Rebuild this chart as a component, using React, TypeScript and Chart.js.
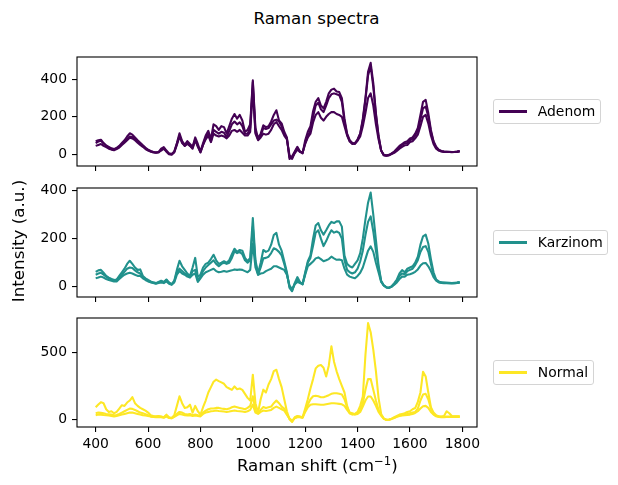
import React, { useEffect, useRef } from "react";
import { Chart, registerables } from "chart.js";

Chart.register(...registerables);

// ---------------- data ----------------
const X = [
  400, 410, 420, 430, 440, 450, 460, 470, 480, 490,
  500, 510, 520, 530, 540, 550, 560, 570, 580, 590,
  600, 610, 620, 630, 640, 650, 660, 670, 680, 690,
  700, 710, 720, 730, 740, 750, 760, 770, 780, 790,
  800, 810, 820, 830, 840, 850, 860, 870, 880, 890,
  900, 910, 920, 930, 940, 950, 960, 970, 980, 990,
  1000, 1010, 1020, 1030, 1040, 1050, 1060, 1070, 1080, 1090,
  1100, 1110, 1120, 1130, 1140, 1150, 1160, 1170, 1180, 1190,
  1200, 1210, 1220, 1230, 1240, 1250, 1260, 1270, 1280, 1290,
  1300, 1310, 1320, 1330, 1340, 1350, 1360, 1370, 1380, 1390,
  1400, 1410, 1420, 1430, 1440, 1450, 1460, 1470, 1480, 1490,
  1500, 1510, 1520, 1530, 1540, 1550, 1560, 1570, 1580, 1590,
  1600, 1610, 1620, 1630, 1640, 1650, 1660, 1670, 1680, 1690,
  1700, 1710, 1720, 1730, 1740, 1750, 1760, 1770, 1780, 1790,
];

const ADENOM_1 = [
  70, 75, 78, 60, 45, 35, 28, 25, 35, 45,
  60, 75, 95, 112, 105, 90, 75, 62, 48, 35,
  25, 18, 12, 10, 12, 30, 38, 20, 5, 2,
  15, 60, 112, 70, 50, 70, 55, 40, 90, 55,
  15, 60, 100, 125, 80, 160, 150, 130, 150, 145,
  110, 150, 190, 215, 190, 210, 180, 120, 130, 160,
  395, 140, 85, 110, 155, 145, 150, 175, 210, 235,
  180, 165, 120, 90, -25, -10, 15, 40, 15, 5,
  75, 120, 150, 230, 280, 300, 260, 245, 280, 325,
  345, 350, 335, 332, 300, 190, 110, 75, 60, 55,
  75, 110, 190, 300, 440, 488, 380, 220, 100, 20,
  -5, -8, -5, 5, 15, 30, 45, 55, 65, 70,
  85, 90, 110, 140, 210, 280, 290, 220, 130, 70,
  40, 25, 18, 15, 14, 13, 12, 13, 15, 18,
];
const ADENOM_2 = [
  60, 68, 72, 58, 48, 40, 32, 28, 32, 40,
  55, 68, 82, 95, 92, 82, 70, 58, 45, 33,
  22, 15, 10, 8, 10, 25, 35, 15, 0, -2,
  12, 55, 100, 65, 45, 60, 45, 35, 80, 45,
  10, 50, 90, 110, 70, 130, 120, 110, 120, 115,
  90, 125, 160, 175, 160, 170, 150, 110, 110, 140,
  385, 120, 80, 100, 140, 135, 140, 160, 180, 185,
  175, 150, 110, 85, -15, -25, 10, 35, 15, 8,
  60, 95, 130, 200, 260, 275, 240, 225, 260, 300,
  320, 325, 320, 315, 280, 175, 105, 70, 58, 60,
  80, 110, 180, 290, 420, 470, 360, 210, 95, 20,
  -5, -8, -5, 3, 12, 25, 38, 50, 58, 60,
  75, 82, 100, 125, 185, 245, 255, 200, 120, 65,
  35, 22, 16, 14, 13, 12, 12, 12, 14, 16,
];
const ADENOM_3 = [
  45, 50, 55, 45, 38, 30, 25, 22, 28, 36,
  50, 62, 75, 88, 85, 75, 62, 50, 40, 28,
  20, 15, 12, 10, 12, 20, 30, 15, 2, 0,
  10, 50, 95, 60, 45, 55, 45, 30, 75, 40,
  12, 50, 80, 100, 65, 110, 100, 95, 100, 95,
  85, 100, 125, 130, 120, 130, 115, 100, 100, 120,
  350, 110, 75, 90, 110, 105, 110, 130, 160, 172,
  150, 130, 100, 80, -5, -20, 5, 25, 12, 8,
  55, 90, 110, 170, 210, 225, 195, 180, 200, 215,
  225, 225, 215, 210, 200, 150, 100, 68, 55, 58,
  72, 95, 150, 220, 300, 325, 260, 160, 80, 20,
  -3, -5, -3, 2, 8, 18, 30, 40, 48, 50,
  65, 70, 85, 105, 150, 200, 210, 165, 100, 55,
  30, 20, 15, 13, 12, 12, 11, 12, 13, 15,
];

const KARZINOM_1 = [
  62, 68, 70, 58, 45, 38, 32, 28, 30, 45,
  60, 75, 95, 108, 95, 80, 70, 72, 45, 35,
  28, 22, 18, 15, 20, 25, 20, 30, 18, 10,
  25, 70, 108, 85, 70, 55, 45, 80, 120, 40,
  50, 80, 95, 100, 115, 133, 110, 95, 100, 106,
  100, 110, 135, 158, 145, 153, 150, 120, 106, 120,
  286, 110, 55, 100, 153, 145, 150, 175, 215, 224,
  175, 150, 106, 60, -5, -19, 15, 40, 20, 10,
  60, 106, 130, 200, 255, 265, 235, 217, 235, 255,
  270, 265, 272, 272, 250, 130, 95, 85, 80, 95,
  110, 140, 200, 280, 350, 392, 300, 195, 90, 25,
  5, -3, -5, 2, 15, 30, 55, 69, 60, 75,
  80, 85, 100, 125, 175, 210, 217, 180, 115, 60,
  30, 22, 18, 17, 16, 16, 15, 16, 17, 20,
];
const KARZINOM_2 = [
  50, 55, 58, 50, 42, 35, 30, 28, 28, 40,
  50, 62, 75, 80, 78, 68, 60, 55, 40, 32,
  25, 20, 16, 14, 18, 22, 18, 28, 15, 10,
  22, 60, 75, 65, 55, 50, 40, 65, 70, 25,
  40, 65, 80, 90, 100, 110, 95, 85, 95, 100,
  95, 100, 120, 147, 140, 145, 135, 110, 100, 110,
  250, 100, 50, 80, 118, 120, 125, 140, 160, 155,
  145, 130, 95, 55, 0, -15, 12, 30, 18, 12,
  55, 100, 120, 170, 225, 235, 200, 169, 190, 215,
  235, 225, 230, 224, 200, 110, 70, 60, 55, 60,
  75, 105, 150, 215, 270, 293, 230, 150, 80, 22,
  5, -3, -5, 0, 10, 25, 45, 55, 52, 65,
  70, 75, 90, 110, 145, 165, 169, 145, 95, 50,
  28, 20, 17, 16, 16, 15, 15, 15, 16, 18,
];
const KARZINOM_3 = [
  35, 38, 42, 38, 32, 28, 25, 22, 22, 32,
  42, 50, 55, 58, 55, 50, 45, 45, 35, 28,
  22, 18, 15, 12, 15, 18, 15, 22, 12, 8,
  18, 50, 65, 55, 50, 42, 38, 50, 55, 20,
  35, 50, 60, 65, 70, 75, 65, 60, 62, 65,
  62, 65, 68, 72, 70, 72, 70, 65, 60, 70,
  180, 80, 50, 55, 57, 65, 70, 75, 85, 85,
  80, 75, 70, 50, 5, -10, 10, 20, 15, 10,
  50, 85, 95, 105, 118, 122, 115, 106, 110, 115,
  125, 118, 112, 113, 110, 75, 50, 42, 38, 35,
  45, 58, 80, 115, 150, 168, 145, 100, 60, 20,
  5, -2, -3, 0, 8, 18, 32, 42, 42, 50,
  52, 56, 62, 72, 88, 98, 99, 85, 65, 40,
  25, 18, 16, 15, 15, 15, 14, 15, 16, 17,
];

const NORMAL_1 = [
  90, 110, 128, 120, 75, 55, 60, 45, 55, 80,
  105, 100, 125, 140, 166, 120, 100, 85, 75, 65,
  50, 30, 25, 22, 25, 20, 15, 35, 15, 10,
  30, 100, 172, 120, 84, 90, 109, 50, 100, 60,
  35, 90, 140, 200, 240, 280, 296, 285, 275, 265,
  240, 230, 220, 245, 225, 230, 220, 190, 160, 140,
  333, 120, 50, 150, 221, 200, 260, 300, 360, 370,
  300, 240, 150, 60, 0, -20, 15, 25, 20, 15,
  80, 150, 230, 300, 380, 400, 405, 385, 320, 400,
  545, 430, 358, 300, 250, 200, 100, 45, 35, 40,
  55, 100, 170, 480, 718, 650, 520, 360, 160, 40,
  5, -5, -3, 5, 15, 25, 35, 40, 45, 55,
  60, 75, 84, 130, 200, 355, 320, 200, 90, 50,
  30, 22, 20, 25, 60, 45, 25, 22, 22, 22,
];
const NORMAL_2 = [
  45, 50, 48, 45, 40, 38, 35, 30, 32, 40,
  50, 60, 70, 80, 78, 70, 60, 50, 45, 38,
  30, 22, 20, 18, 20, 18, 15, 25, 12, 8,
  20, 40, 55, 50, 40, 35, 40, 30, 35, 30,
  25, 50, 65, 75, 80, 80, 85, 85, 80, 78,
  75, 80, 90, 95, 90, 85, 80, 75, 85, 100,
  172, 70, 45, 70, 92, 85, 90, 95, 120, 140,
  120, 95, 80, 40, 5, -15, 10, 20, 18, 12,
  65, 110, 150, 172, 176, 172, 165, 165, 172, 180,
  190, 194, 194, 190, 185, 150, 90, 50, 45, 38,
  45, 70, 120, 220, 300, 300, 220, 140, 70, 30,
  5, -3, -3, 3, 12, 20, 28, 32, 35, 40,
  45, 50, 55, 80, 140, 185, 190, 150, 80, 40,
  25, 20, 18, 18, 20, 20, 20, 20, 20, 20,
];
const NORMAL_3 = [
  30, 35, 35, 32, 30, 28, 25, 22, 25, 30,
  35, 40, 45, 50, 50, 45, 40, 35, 30, 28,
  25, 20, 18, 16, 18, 15, 12, 20, 10, 8,
  18, 30, 40, 35, 30, 28, 30, 25, 28, 25,
  22, 40, 50, 55, 60, 62, 65, 62, 60, 58,
  55, 58, 62, 65, 62, 60, 58, 55, 60, 70,
  110, 50, 40, 55, 65, 62, 65, 70, 85, 95,
  85, 75, 65, 35, 5, -10, 8, 15, 15, 12,
  55, 90, 108, 112, 112, 110, 108, 108, 112, 116,
  120, 120, 118, 115, 112, 100, 70, 45, 40, 35,
  40, 55, 95, 140, 170, 170, 140, 100, 55, 28,
  5, -3, -2, 3, 10, 18, 25, 28, 30, 32,
  35, 40, 47, 60, 80, 98, 100, 85, 55, 35,
  22, 18, 16, 16, 17, 17, 17, 18, 18, 18,
];

const X_TICKS = [400, 600, 800, 1000, 1200, 1400, 1600, 1800];
const X_TICK_LABELS = ["400", "600", "800", "1000", "1200", "1400", "1600", "1800"];
const Y_TICKS_ADENOM = [0, 200, 400];
const Y_TICKS_KARZINOM = [0, 200, 400];
const Y_TICKS_NORMAL = [0, 500];

const GROUPS = ["Adenom", "Karzinom", "Normal"];

// ---------------- layout / style ----------------
const FONT = "'DejaVu Sans', 'Noto Sans', sans-serif";
const TICK_SIZE = 13.9;
const LINE_W = 2.08;
const AX_LEFT = 77;
const AX_RIGHT = 477;
const PAD_TOP = 20;
const X_MIN = 328.6;
const X_MAX = 1856;

const PANELS = [
  { name: GROUPS[0], color: "#440154", series: [ADENOM_1, ADENOM_2, ADENOM_3], yTicks: Y_TICKS_ADENOM, yMin: -62.4, yMax: 518.9, top: 57, height: 109, showX: false },
  { name: GROUPS[1], color: "#21918c", series: [KARZINOM_1, KARZINOM_2, KARZINOM_3], yTicks: Y_TICKS_KARZINOM, yMin: -42.9, yMax: 411, top: 188, height: 109, showX: false },
  { name: GROUPS[2], color: "#fde725", series: [NORMAL_1, NORMAL_2, NORMAL_3], yTicks: Y_TICKS_NORMAL, yMin: -57.5, yMax: 756, top: 318, height: 109, showX: true },
];

const framePlugin = {
  id: "frame",
  afterDraw(chart: any) {
    const { ctx, chartArea } = chart;
    const { left, top, right, bottom } = chartArea;
    ctx.save();
    ctx.strokeStyle = "#000";
    ctx.lineWidth = 1.1;
    ctx.strokeRect(left, top, right - left, bottom - top);
    ctx.restore();
  },
};

function Panel({ cfg }: { cfg: any }) {
  const ref = useRef<HTMLCanvasElement>(null);
  const xAxisH = cfg.showX ? 34 : 20;
  const canvasH = PAD_TOP + cfg.height + xAxisH;

  useEffect(() => {
    const chart = new Chart(ref.current as HTMLCanvasElement, {
      type: "line",
      data: {
        datasets: cfg.series.map((s: number[]) => ({
          data: X.map((x, i) => ({ x, y: s[i] })),
          borderColor: cfg.color,
          backgroundColor: cfg.color,
          borderWidth: LINE_W,
          borderJoinStyle: "round",
          pointRadius: 0,
          fill: false,
          tension: 0,
        })),
      },
      options: {
        animation: false,
        responsive: false,
        maintainAspectRatio: false,
        devicePixelRatio: 1,
        events: [],
        layout: { padding: { top: PAD_TOP, left: 0, right: 618 - AX_RIGHT, bottom: 0 } },
        plugins: { legend: { display: false }, tooltip: { enabled: false }, title: { display: false } },
        scales: {
          x: {
            type: "linear",
            min: X_MIN,
            max: X_MAX,
            afterBuildTicks: (s: any) => {
              s.ticks = X_TICKS.map((v) => ({ value: v }));
            },
            afterFit: (s: any) => {
              s.height = xAxisH;
            },
            border: { display: false },
            grid: { drawOnChartArea: false, drawTicks: true, tickLength: 5, color: "#000", lineWidth: 1.1 },
            ticks: {
              display: cfg.showX,
              color: "#000",
              font: { family: FONT, size: TICK_SIZE },
              padding: 4.5,
              maxRotation: 0,
              autoSkip: false,
              callback: (_v: any, i: number) => X_TICK_LABELS[i],
            },
          },
          y: {
            type: "linear",
            min: cfg.yMin,
            max: cfg.yMax,
            afterBuildTicks: (s: any) => {
              s.ticks = cfg.yTicks.map((v: number) => ({ value: v }));
            },
            afterFit: (s: any) => {
              s.width = AX_LEFT;
            },
            border: { display: false },
            grid: { drawOnChartArea: false, drawTicks: true, tickLength: 5, color: "#000", lineWidth: 1.1 },
            ticks: {
              color: "#000",
              font: { family: FONT, size: TICK_SIZE },
              padding: 5,
              autoSkip: false,
              callback: (v: any) => String(v),
            },
          },
        },
      } as any,
      plugins: [framePlugin],
    });
    return () => chart.destroy();
  }, []);

  return (
    <canvas
      ref={ref}
      width={618}
      height={canvasH}
      style={{ position: "absolute", left: 0, top: cfg.top - PAD_TOP, width: 618, height: canvasH }}
    />
  );
}

function Legend({ cfg }: { cfg: any }) {
  const h = 24.7;
  const cy = cfg.top + cfg.height / 2;
  return (
    <div
      style={{
        position: "absolute",
        left: 493.3,
        top: cy - h / 2,
        height: h,
        boxSizing: "border-box",
        paddingLeft: 44.5,
        paddingRight: 5.6,
        whiteSpace: "nowrap",
        fontFamily: FONT,
        fontSize: TICK_SIZE,
        lineHeight: "16px",
        color: "#000",
      }}
    >
      <div
        style={{
          position: "absolute",
          inset: 0,
          border: "1px solid #d4d4d4",
          borderRadius: 3,
          background: "rgba(255,255,255,0.8)",
          boxSizing: "border-box",
        }}
      />
      <div
        style={{
          position: "absolute",
          left: 5.6,
          top: h / 2 - LINE_W / 2,
          width: 27.8,
          height: LINE_W,
          background: cfg.color,
        }}
      />
      <div style={{ position: "relative", paddingTop: 3.9 }}>{cfg.name}</div>
    </div>
  );
}

export default function App() {
  return (
    <div style={{ position: "absolute", left: 0, top: 0, width: 618, height: 485, background: "#fff", overflow: "hidden" }}>
      {PANELS.map((p) => (
        <Panel key={p.name} cfg={p} />
      ))}
      {PANELS.map((p) => (
        <Legend key={"l" + p.name} cfg={p} />
      ))}
      <div
        style={{
          position: "absolute",
          left: 216.5,
          width: 200,
          top: 8.2,
          height: 20,
          lineHeight: "20px",
          textAlign: "center",
          fontFamily: FONT,
          fontSize: 16.7,
          color: "#000",
          whiteSpace: "nowrap",
        }}
      >
        Raman spectra
      </div>
      <div
        style={{
          position: "absolute",
          left: 167.3,
          width: 300,
          top: 455.2,
          height: 20,
          lineHeight: "20px",
          textAlign: "center",
          fontFamily: FONT,
          fontSize: 16.7,
          color: "#000",
          whiteSpace: "nowrap",
        }}
      >
        Raman shift (cm
        <span style={{ fontSize: 11.7, position: "relative", top: -6 }}>−1</span>)
      </div>
      <div
        style={{
          position: "absolute",
          left: 18.1 - 100,
          width: 200,
          top: 241 - 10,
          height: 20,
          lineHeight: "20px",
          textAlign: "center",
          fontFamily: FONT,
          fontSize: 16.7,
          color: "#000",
          whiteSpace: "nowrap",
          transform: "rotate(-90deg)",
        }}
      >
        Intensity (a.u.)
      </div>
    </div>
  );
}
